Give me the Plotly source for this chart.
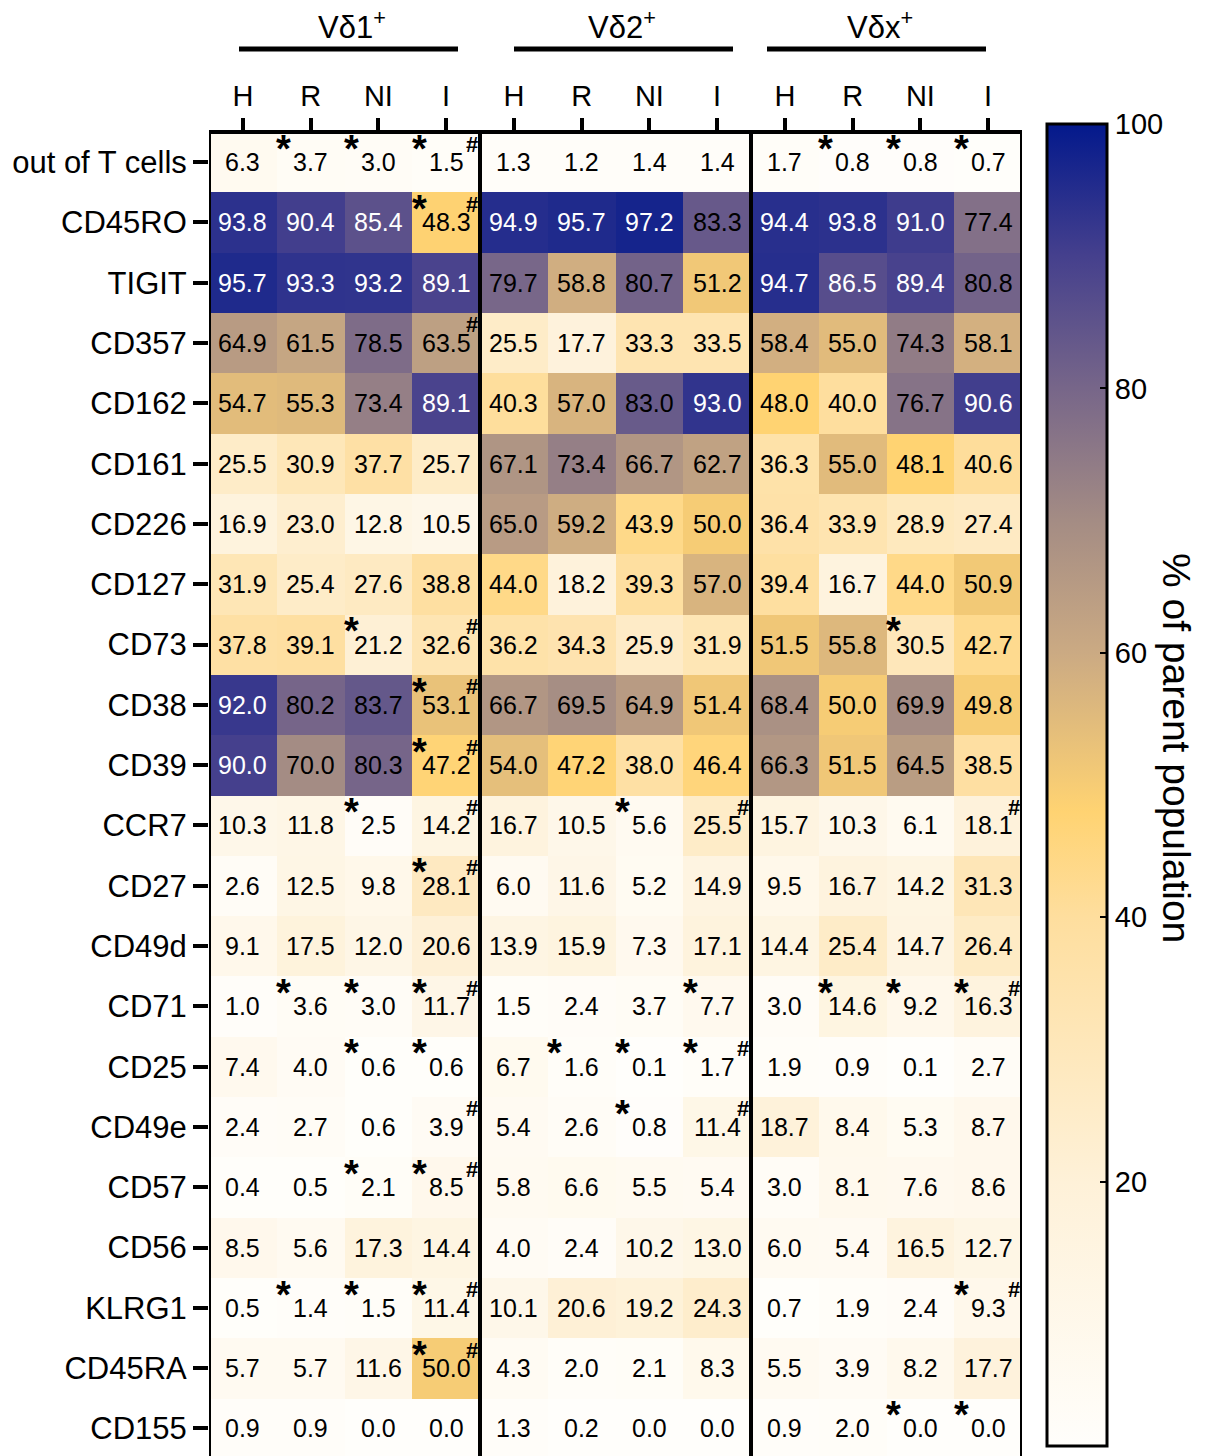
import plotly.graph_objects as go

markers = ["out of T cells", "CD45RO", "TIGIT", "CD357", "CD162", "CD161", "CD226",
           "CD127", "CD73", "CD38", "CD39", "CCR7", "CD27", "CD49d", "CD71", "CD25",
           "CD49e", "CD57", "CD56", "KLRG1", "CD45RA", "CD155"]
groups = ["Vδ1<sup>+</sup>", "Vδ2<sup>+</sup>", "Vδx<sup>+</sup>"]
conditions = ["H", "R", "NI", "I"]
col_labels = conditions * 3

values = [
    [6.3, 3.7, 3.0, 1.5, 1.3, 1.2, 1.4, 1.4, 1.7, 0.8, 0.8, 0.7],
    [93.8, 90.4, 85.4, 48.3, 94.9, 95.7, 97.2, 83.3, 94.4, 93.8, 91.0, 77.4],
    [95.7, 93.3, 93.2, 89.1, 79.7, 58.8, 80.7, 51.2, 94.7, 86.5, 89.4, 80.8],
    [64.9, 61.5, 78.5, 63.5, 25.5, 17.7, 33.3, 33.5, 58.4, 55.0, 74.3, 58.1],
    [54.7, 55.3, 73.4, 89.1, 40.3, 57.0, 83.0, 93.0, 48.0, 40.0, 76.7, 90.6],
    [25.5, 30.9, 37.7, 25.7, 67.1, 73.4, 66.7, 62.7, 36.3, 55.0, 48.1, 40.6],
    [16.9, 23.0, 12.8, 10.5, 65.0, 59.2, 43.9, 50.0, 36.4, 33.9, 28.9, 27.4],
    [31.9, 25.4, 27.6, 38.8, 44.0, 18.2, 39.3, 57.0, 39.4, 16.7, 44.0, 50.9],
    [37.8, 39.1, 21.2, 32.6, 36.2, 34.3, 25.9, 31.9, 51.5, 55.8, 30.5, 42.7],
    [92.0, 80.2, 83.7, 53.1, 66.7, 69.5, 64.9, 51.4, 68.4, 50.0, 69.9, 49.8],
    [90.0, 70.0, 80.3, 47.2, 54.0, 47.2, 38.0, 46.4, 66.3, 51.5, 64.5, 38.5],
    [10.3, 11.8, 2.5, 14.2, 16.7, 10.5, 5.6, 25.5, 15.7, 10.3, 6.1, 18.1],
    [2.6, 12.5, 9.8, 28.1, 6.0, 11.6, 5.2, 14.9, 9.5, 16.7, 14.2, 31.3],
    [9.1, 17.5, 12.0, 20.6, 13.9, 15.9, 7.3, 17.1, 14.4, 25.4, 14.7, 26.4],
    [1.0, 3.6, 3.0, 11.7, 1.5, 2.4, 3.7, 7.7, 3.0, 14.6, 9.2, 16.3],
    [7.4, 4.0, 0.6, 0.6, 6.7, 1.6, 0.1, 1.7, 1.9, 0.9, 0.1, 2.7],
    [2.4, 2.7, 0.6, 3.9, 5.4, 2.6, 0.8, 11.4, 18.7, 8.4, 5.3, 8.7],
    [0.4, 0.5, 2.1, 8.5, 5.8, 6.6, 5.5, 5.4, 3.0, 8.1, 7.6, 8.6],
    [8.5, 5.6, 17.3, 14.4, 4.0, 2.4, 10.2, 13.0, 6.0, 5.4, 16.5, 12.7],
    [0.5, 1.4, 1.5, 11.4, 10.1, 20.6, 19.2, 24.3, 0.7, 1.9, 2.4, 9.3],
    [5.7, 5.7, 11.6, 50.0, 4.3, 2.0, 2.1, 8.3, 5.5, 3.9, 8.2, 17.7],
    [0.9, 0.9, 0.0, 0.0, 1.3, 0.2, 0.0, 0.0, 0.9, 2.0, 0.0, 0.0],
]

# significance flags: "*" vs H, "#" vs NI
flags = [
    ["", "*", "*", "*#", "", "", "", "", "", "*", "*", "*"],
    ["", "", "", "*#", "", "", "", "", "", "", "", ""],
    ["", "", "", "", "", "", "", "", "", "", "", ""],
    ["", "", "", "#", "", "", "", "", "", "", "", ""],
    ["", "", "", "", "", "", "", "", "", "", "", ""],
    ["", "", "", "", "", "", "", "", "", "", "", ""],
    ["", "", "", "", "", "", "", "", "", "", "", ""],
    ["", "", "", "", "", "", "", "", "", "", "", ""],
    ["", "", "*", "#", "", "", "", "", "", "", "*", ""],
    ["", "", "", "*#", "", "", "", "", "", "", "", ""],
    ["", "", "", "*#", "", "", "", "", "", "", "", ""],
    ["", "", "*", "#", "", "", "*", "#", "", "", "", "#"],
    ["", "", "", "*#", "", "", "", "", "", "", "", ""],
    ["", "", "", "", "", "", "", "", "", "", "", ""],
    ["", "*", "*", "*#", "", "", "", "*", "", "*", "*", "*#"],
    ["", "", "*", "*", "", "*", "*", "*#", "", "", "", ""],
    ["", "", "", "#", "", "", "*", "#", "", "", "", ""],
    ["", "", "*", "*#", "", "", "", "", "", "", "", ""],
    ["", "", "", "", "", "", "", "", "", "", "", ""],
    ["", "*", "*", "*#", "", "", "", "", "", "", "", "*#"],
    ["", "", "", "*#", "", "", "", "", "", "", "", ""],
    ["", "", "", "", "", "", "", "", "", "", "*", "*"],
]

FONT = "Liberation Sans, Arial, Helvetica, sans-serif"
W, H = 1205, 1456
L, R, T = 209, 1022, 132
plot_h = H - T
ncol, nrow = 12, len(markers)
row_px = 60.3
col_px = (R - L) / ncol
y_bottom = -0.5 + plot_h / row_px

colorscale = [
    [0.00, "#FFFEFB"],
    [0.20, "#FEF1D8"],
    [0.40, "#FEDE9E"],
    [0.48, "#FFD372"],
    [0.60, "#CBAA83"],
    [0.70, "#A48C84"],
    [0.80, "#776689"],
    [0.90, "#45408D"],
    [1.00, "#03198C"],
]

fig = go.Figure()
fig.add_trace(go.Heatmap(
    z=values,
    x=list(range(ncol)),
    y=list(range(nrow)),
    zmin=0, zmax=100,
    colorscale=colorscale,
    hoverinfo="skip",
    colorbar=dict(
        x=(1047 - L) / (R - L), xanchor="left", xpad=0,
        y=(H - 785) / plot_h, yanchor="middle", ypad=0,
        len=1322, lenmode="pixels",
        thickness=60, thicknessmode="pixels",
        outlinewidth=3, outlinecolor="black",
        tickvals=[0, 20, 40, 60, 80, 100],
        ticks="inside", ticklen=8, tickwidth=2, tickcolor="black",
        tickfont=dict(family=FONT, size=29, color="black"),
    ),
))

annotations = []
for i in range(nrow):
    for j in range(ncol):
        v = values[i][j]
        annotations.append(dict(
            x=j, y=i, xref="x", yref="y", text=f"{v:.1f}", showarrow=False,
            font=dict(family=FONT, size=25, color="white" if v >= 84.5 else "black"),
            xanchor="center", yanchor="middle",
        ))
        f = flags[i][j]
        if "*" in f:
            annotations.append(dict(
                x=j - 27 / col_px, y=i - 0.22, xref="x", yref="y", text="<b>*</b>",
                showarrow=False, font=dict(family=FONT, size=38, color="black"),
                xanchor="center", yanchor="middle",
            ))
        if "#" in f:
            annotations.append(dict(
                x=j + 26 / col_px, y=i - 0.30, xref="x", yref="y", text="<b>#</b>",
                showarrow=False, font=dict(family=FONT, size=22, color="black"),
                xanchor="center", yanchor="middle",
            ))

# group headers
group_centers_px = [352, 622, 880]
group_lines_px = [(239, 458), (514, 733), (767, 986)]
shapes = []
for g, cx, (x0, x1) in zip(groups, group_centers_px, group_lines_px):
    annotations.append(dict(
        x=(cx - L) / (R - L), y=(H - 25) / plot_h, xref="paper", yref="paper",
        text=g, showarrow=False, font=dict(family=FONT, size=31, color="black"),
        xanchor="center", yanchor="middle",
    ))
    shapes.append(dict(
        type="line", xref="paper", yref="paper",
        x0=(x0 - L) / (R - L), x1=(x1 - L) / (R - L),
        y0=(H - 49) / plot_h, y1=(H - 49) / plot_h,
        line=dict(color="black", width=5),
    ))

# colorbar title
annotations.append(dict(
    x=(1177 - L) / (R - L), y=(H - 748) / plot_h, xref="paper", yref="paper",
    text="% of parent population", textangle=90, showarrow=False,
    font=dict(family=FONT, size=39, color="black"),
    xanchor="center", yanchor="middle",
))

# frame: left, group dividers, right, top
for xb in [-0.5, 3.5, 7.5, 11.5]:
    shapes.append(dict(type="line", xref="x", yref="paper", x0=xb, x1=xb, y0=0, y1=1,
                       line=dict(color="black", width=4)))
shapes.append(dict(type="line", xref="x", yref="paper", x0=-0.5, x1=11.5, y0=1, y1=1,
                   line=dict(color="black", width=4)))

fig.update_layout(
    width=W, height=H,
    margin=dict(l=L, r=W - R, t=T, b=0, pad=0),
    paper_bgcolor="white", plot_bgcolor="white",
    annotations=annotations, shapes=shapes,
    xaxis=dict(
        side="top", tickmode="array", tickvals=list(range(ncol)), ticktext=col_labels,
        range=[-0.5, 11.5], showgrid=False, zeroline=False, showline=False,
        ticks="outside", ticklen=13, tickwidth=4, tickcolor="black",
        tickfont=dict(family=FONT, size=29, color="black"),
    ),
    yaxis=dict(
        tickmode="array", tickvals=list(range(nrow)), ticktext=markers,
        range=[y_bottom, -0.5], showgrid=False, zeroline=False, showline=False,
        ticks="outside", ticklen=15, tickwidth=4, tickcolor="black",
        tickfont=dict(family=FONT, size=31, color="black"),
    ),
)

fig.write_html(
    "out.html",
    config={"displayModeBar": False},
    post_script="document.body.style.margin='0';document.body.style.overflow='hidden';",
)
